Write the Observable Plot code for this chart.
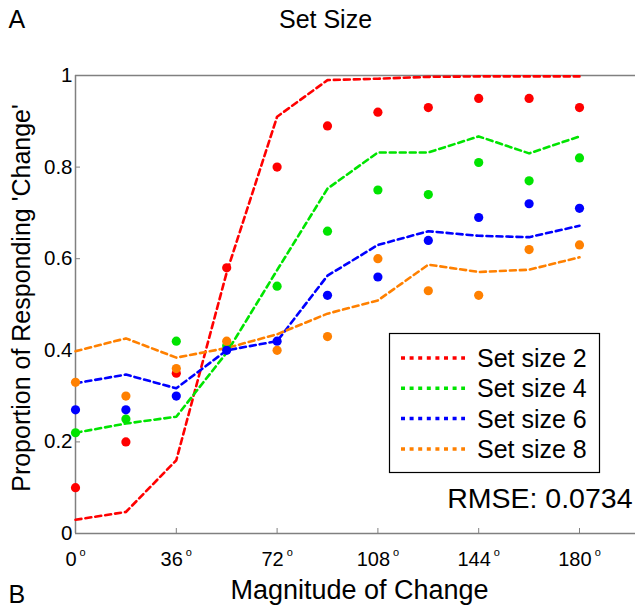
<!DOCTYPE html>
<html>
<head>
<meta charset="utf-8">
<script src="https://cdn.jsdelivr.net/npm/d3@7"></script>
<script src="https://cdn.jsdelivr.net/npm/@observablehq/plot@0.6"></script>
<style>
  html, body { margin: 0; padding: 0; background: #fff; }
  svg { font-family: "Liberation Sans", Arial, Helvetica, sans-serif; }
</style>
</head>
<body>
<div id="chart"></div>
<script>
// ---- data ----
const angles = [0, 18, 36, 54, 72, 90, 108, 126, 144, 162, 180];
const seriesNames = ["Set size 2", "Set size 4", "Set size 6", "Set size 8"];
const seriesColors = ["#ff0000", "#00e400", "#0000ff", "#ff8000"];
// model predictions (dashed lines)
const model2 = [0.03, 0.047, 0.16, 0.57, 0.91, 0.99, 0.993, 0.997, 0.998, 0.998, 0.998];
const model4 = [0.22, 0.24, 0.255, 0.395, 0.575, 0.753, 0.832, 0.832, 0.867, 0.83, 0.867];
const model6 = [0.328, 0.347, 0.317, 0.40, 0.42, 0.563, 0.63, 0.66, 0.65, 0.647, 0.672];
const model8 = [0.398, 0.426, 0.384, 0.405, 0.435, 0.48, 0.509, 0.587, 0.571, 0.576, 0.603];
// observed data (dots)
const obs2 = [0.10, 0.20, 0.35, 0.58, 0.80, 0.89, 0.92, 0.93, 0.95, 0.95, 0.93];
const obs4 = [0.22, 0.25, 0.42, 0.41, 0.54, 0.66, 0.75, 0.74, 0.81, 0.77, 0.82];
const obs6 = [0.27, 0.27, 0.30, 0.40, 0.42, 0.52, 0.56, 0.64, 0.69, 0.72, 0.71];
const obs8 = [0.33, 0.30, 0.36, 0.42, 0.40, 0.43, 0.60, 0.53, 0.52, 0.62, 0.63];
const xTicks = [0, 36, 72, 108, 144, 180];
const yTicks = [0, 0.2, 0.4, 0.6, 0.8, 1];
const titleText = "Set Size";
const xLabel = "Magnitude of Change";
const yLabel = "Proportion of Responding 'Change'";
const rmseText = "RMSE: 0.0734";

// ---- build tables ----
const models = [model2, model4, model6, model8];
const obs = [obs2, obs4, obs6, obs8];
const lineData = [];
const dotData = [];
seriesNames.forEach((s, i) => {
  angles.forEach((a, j) => {
    lineData.push({series: s, angle: a, p: models[i][j]});
    dotData.push({series: s, angle: a, p: obs[i][j]});
  });
});

const axisColor = "#808080";
const plot = Plot.plot({
  width: 635,
  height: 606,
  marginLeft: 75,
  marginTop: 75,
  marginRight: 0,
  marginBottom: 73,
  style: {fontFamily: "'Liberation Sans', Arial, Helvetica, sans-serif", background: "#fff", overflow: "visible"},
  x: {domain: [0, 200], axis: null},
  y: {domain: [0, 1], axis: null},
  color: {domain: seriesNames, range: seriesColors},
  marks: [
    // frame lines
    Plot.ruleY([0, 1], {stroke: axisColor, strokeWidth: 1.5}),
    Plot.ruleX([0], {stroke: axisColor, strokeWidth: 1.5}),
    Plot.axisX(xTicks, {
      anchor: "bottom", tickSize: -5, tickPadding: 23, stroke: axisColor,
      tickFormat: d => String(d), fontSize: 20, fill: "#000", label: null
    }),
    Plot.axisY(yTicks, {
      anchor: "left", tickSize: -5, tickPadding: 8, stroke: axisColor,
      tickFormat: d => String(d), fontSize: 20.5, fill: "#000", label: null
    }),
    Plot.line(lineData, {
      x: "angle", y: "p", z: "series", stroke: "series",
      strokeWidth: 2.6, strokeDasharray: "6,4", curve: "linear"
    }),
    Plot.dot(dotData, {x: "angle", y: "p", fill: "series", r: 4.6}),
    Plot.text([titleText], {frameAnchor: "top", lineAnchor: "middle", textAnchor: "middle", dx: -30, dy: -56, fontSize: 25, fill: "#000"}),
    Plot.text(["A"], {frameAnchor: "top-left", lineAnchor: "middle", textAnchor: "start", dx: -67, dy: -56, fontSize: 25, fill: "#000"}),
    Plot.text(["B"], {frameAnchor: "bottom-left", lineAnchor: "middle", textAnchor: "start", dx: -67, dy: 61, fontSize: 25, fill: "#000"}),
    Plot.text([xLabel], {frameAnchor: "bottom", lineAnchor: "middle", textAnchor: "middle", dx: 4, dy: 57, fontSize: 27, fill: "#000"}),
    Plot.text([rmseText], {frameAnchor: "bottom-right", lineAnchor: "middle", textAnchor: "end", dx: -3, dy: -35, fontSize: 28.5, fill: "#000"})
  ]
});

// ---- extras drawn in the same svg ----
const svg = d3.select(plot);

// degree marks as superscript on x tick labels
svg.selectAll("g[aria-label='x-axis tick label'] text").each(function() {
  d3.select(this).append("tspan").attr("font-size", 11).attr("dx", 3).attr("dy", -10).text("o");
});

// y axis label
svg.append("text")
  .attr("transform", "translate(21,298) rotate(-90)")
  .attr("text-anchor", "middle").attr("dy", "0.35em")
  .attr("font-size", 25).attr("fill", "#000").text(yLabel);

// legend
const lg = svg.append("g").attr("class", "legend");
lg.append("rect").attr("x", 389.5).attr("y", 333.5).attr("width", 210).attr("height", 139)
  .attr("fill", "#fff").attr("stroke", "#000").attr("stroke-width", 1.2);
seriesNames.forEach((s, i) => {
  const cy = 358 + i * 30.3;
  lg.append("line").attr("x1", 401).attr("x2", 465).attr("y1", cy).attr("y2", cy)
    .attr("stroke", seriesColors[i]).attr("stroke-width", 3.5).attr("stroke-dasharray", "4,4.6");
  lg.append("text").attr("x", 477).attr("y", cy + 9).attr("text-anchor", "start")
    .attr("font-size", 25).attr("fill", "#000").text(s);
});

document.getElementById("chart").appendChild(plot);
</script>
</body>
</html>
